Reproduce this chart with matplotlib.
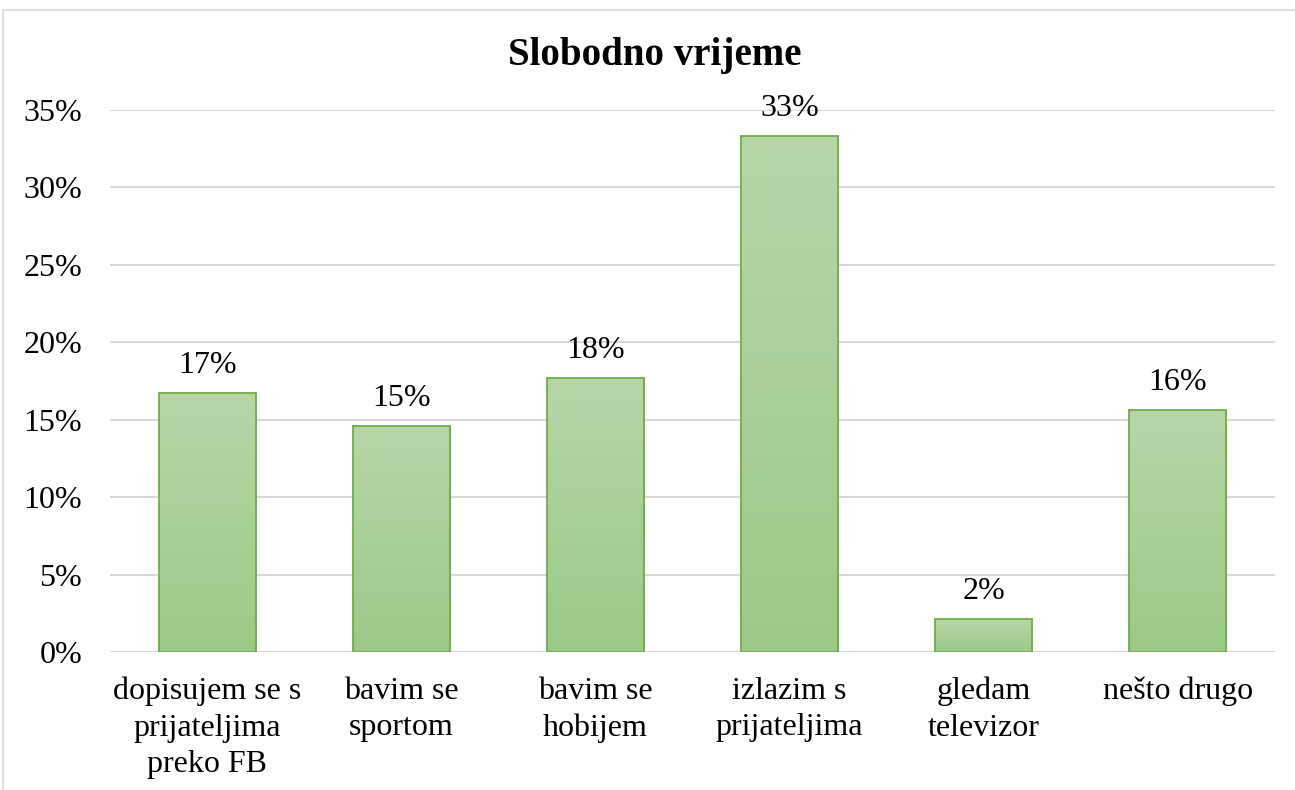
import matplotlib.pyplot as plt
import numpy as np
from matplotlib.colors import LinearSegmentedColormap
from matplotlib.patches import Rectangle

categories = ['dopisujem se s\nprijateljima\npreko FB', 'bavim se\nsportom', 'bavim se\nhobijem',
              'izlazim s\nprijateljima', 'gledam\ntelevizor', 'nešto drugo']
values = [16.7, 14.6, 17.7, 33.3, 2.1, 15.6]
labels = ['17%', '15%', '18%', '33%', '2%', '16%']
yticks = [0, 5, 10, 15, 20, 25, 30, 35]

plt.rcParams['font.family'] = ['Liberation Serif', 'DejaVu Serif']

fig = plt.figure(figsize=(12.95, 7.9), dpi=100)
# outer chart border
fig.patches.append(Rectangle((3 / 1295, -0.01), 1.0, 1 - 10 / 790 + 0.01, transform=fig.transFigure,
                             fill=False, edgecolor='#d9d9d9', linewidth=1.2))
ax = fig.add_axes([110 / 1295, 1 - 652 / 790, 1165 / 1295, 542 / 790])

x = np.arange(len(categories))
cmap = LinearSegmentedColormap.from_list('g', ['#9cc987', '#b6d6a7'])
grad = np.linspace(0, 1, 256).reshape(-1, 1)
bars = ax.bar(x, values, width=0.5, color='none', edgecolor='#70ad47', linewidth=1.3, zorder=3)
for b in bars:
    x0, w, h = b.get_x(), b.get_width(), b.get_height()
    im = ax.imshow(grad, extent=[x0, x0 + w, 0, h], origin='lower', cmap=cmap, aspect='auto', zorder=2)
    im.set_clip_path(b)

for xi, v, l in zip(x, values, labels):
    ax.text(xi, v + 0.85, l, ha='center', va='bottom', fontsize=23)

ax.set_xlim(-0.5, len(categories) - 0.5)
ax.set_ylim(0, 35)
ax.set_yticks(yticks)
ax.set_yticklabels([f'{t}%' for t in yticks], fontsize=23)
ax.set_xticks(x)
ax.set_xticklabels(categories, fontsize=23, linespacing=1.32, va='top')
ax.tick_params(length=0)
ax.tick_params(axis='x', pad=18)
ax.tick_params(axis='y', pad=20)
ax.grid(axis='y', color='#d9d9d9', linewidth=1.5, zorder=0)
for s in ax.spines.values():
    s.set_visible(False)

fig.text(655 / 1295, 1 - 55 / 790, 'Slobodno vrijeme', ha='center', va='center',
         fontsize=28, fontweight='bold')

fig.savefig('out.png', dpi=100)
